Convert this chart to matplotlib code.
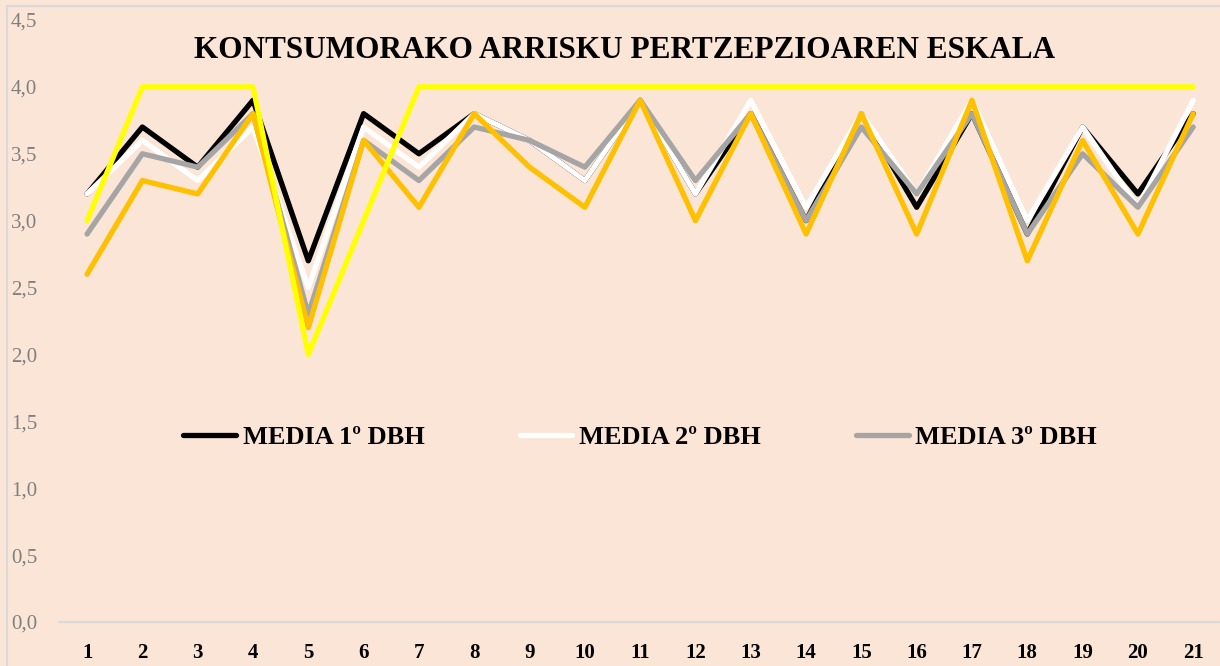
import numpy as np
import matplotlib.pyplot as plt
from matplotlib.lines import Line2D

# Datos
items = list(range(1, 22))
media_1 = [3.2, 3.7, 3.4, 3.9, 2.7, 3.8, 3.5, 3.8, 3.6, 3.3, 3.9, 3.2, 3.8, 3.0, 3.8, 3.1, 3.8, 2.9, 3.7, 3.2, 3.8]
media_2 = [3.2, 3.6, 3.3, 3.7, 2.5, 3.7, 3.4, 3.8, 3.6, 3.3, 3.9, 3.2, 3.9, 3.1, 3.8, 3.2, 3.9, 3.0, 3.7, 3.1, 3.9]
media_3 = [2.9, 3.5, 3.4, 3.8, 2.3, 3.6, 3.3, 3.7, 3.6, 3.4, 3.9, 3.3, 3.8, 3.0, 3.7, 3.2, 3.8, 2.9, 3.5, 3.1, 3.7]
media_4 = [2.6, 3.3, 3.2, 3.8, 2.2, 3.6, 3.1, 3.8, 3.4, 3.1, 3.9, 3.0, 3.8, 2.9, 3.8, 2.9, 3.9, 2.7, 3.6, 2.9, 3.8]
media_5 = [3.0, 4.0, 4.0, 4.0, 2.0, 3.0, 4.0, 4.0, 4.0, 4.0, 4.0, 4.0, 4.0, 4.0, 4.0, 4.0, 4.0, 4.0, 4.0, 4.0, 4.0]
yticks = [0.0, 0.5, 1.0, 1.5, 2.0, 2.5, 3.0, 3.5, 4.0, 4.5]

fondo = '#FBE5D6'
serif = ['Liberation Serif', 'DejaVu Serif']

fig = plt.figure(figsize=(12.2, 6.66), dpi=100)
fig.patch.set_facecolor(fondo)

# borde del area del grafico
fig.add_artist(Line2D([7 / 1220, 7 / 1220], [0, 1 - 6 / 666], transform=fig.transFigure, color='#D9D9D9', lw=1.5))
fig.add_artist(Line2D([7 / 1220, 1], [1 - 6 / 666, 1 - 6 / 666], transform=fig.transFigure, color='#D9D9D9', lw=1.5))

ax = fig.add_axes([0.0487, 0.066, 0.952, 0.904])
ax.set_facecolor(fondo)

lw = 3.8
ax.plot(items, media_1, color='black', lw=lw, solid_capstyle='round', label='MEDIA 1º DBH')
ax.plot(items, media_2, color='white', lw=lw, solid_capstyle='round', label='MEDIA 2º DBH')
ax.plot(items, media_3, color='#A5A5A5', lw=lw, solid_capstyle='round', label='MEDIA 3º DBH')
ax.plot(items, media_4, color='#FFC000', lw=lw, solid_capstyle='round')
ax.plot(items, media_5, color='#FFFF00', lw=lw, solid_capstyle='round')

ax.set_xlim(0.5, 21.5)
ax.set_ylim(0, 4.5)
ax.set_xticks(items)
ax.set_xticklabels([str(i) for i in items], family=serif, fontweight='bold', fontsize=15)
ax.set_yticks(yticks)
ax.set_yticklabels([f'{v:.1f}'.replace('.', ',') for v in yticks], family=serif, fontsize=15, color='#7F7F7F')
ax.tick_params(axis='both', length=0)
ax.tick_params(axis='x', pad=15)
ax.tick_params(axis='y', pad=16)

for s in ['top', 'right', 'left']:
    ax.spines[s].set_visible(False)
ax.spines['bottom'].set_color('#D9D9D9')
ax.spines['bottom'].set_linewidth(1.5)

ax.text(0.487, 0.95, 'KONTSUMORAKO ARRISKU PERTZEPZIOAREN ESKALA', transform=ax.transAxes,
        ha='center', va='center', family=serif, fontweight='bold', fontsize=22.5)

leg = ax.legend(loc='center', bbox_to_anchor=(0.5, 0.307), ncol=3, frameon=False,
                prop={'family': serif, 'weight': 'bold', 'size': 19},
                handlelength=2.0, handletextpad=0.25, columnspacing=3.6)

fig.savefig('out.png', dpi=100, facecolor=fondo)
